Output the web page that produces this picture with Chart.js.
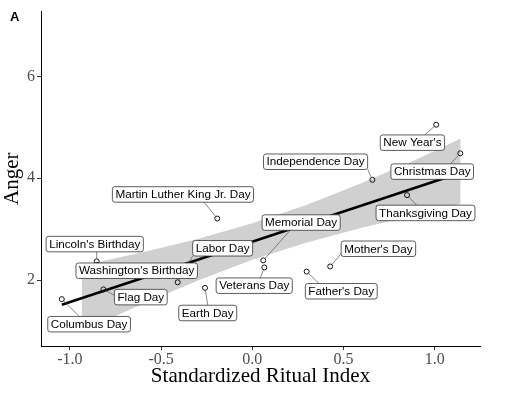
<!DOCTYPE html>
<html><head><meta charset="utf-8">
<script src="https://cdn.jsdelivr.net/npm/chart.js@4/dist/chart.umd.min.js"></script>
<style>html,body{margin:0;padding:0;background:#fff;}canvas{display:block;}</style>
</head><body>
<canvas id="c" width="510" height="397"></canvas>
<script>
// ---- data ----
const holidays = ["Columbus Day","Lincoln's Birthday","Washington's Birthday","Flag Day","Labor Day","Earth Day","Martin Luther King Jr. Day","Memorial Day","Veterans Day","Father's Day","Mother's Day","Independence Day","Thanksgiving Day","New Year's","Christmas Day"];
const ritualIndex = [-1.044,-0.853,-0.85,-0.816,-0.409,-0.259,-0.192,0.060,0.066,0.298,0.427,0.658,0.848,1.008,1.140];
const anger = [1.63,2.37,2.30,1.82,1.96,1.85,3.21,2.39,2.25,2.17,2.27,3.97,3.67,5.05,4.49];
const fitX = [-1.044, 1.142];
const fitY = [1.52, 4.11];
const bandX = [-0.935,-0.6,-0.3,0,0.3,0.6,0.9,1.142];
const bandUpper = [2.29,2.55,2.81,3.12,3.48,3.91,4.37,4.78];
const bandLower = [1.00,1.54,1.99,2.40,2.74,3.03,3.28,3.50];
const xTicks = [-1.0,-0.5,0.0,0.5,1.0];
const yTicks = [2,4,6];
const panelLetter = "A";
const xTitle = "Standardized Ritual Index";
const yTitle = "Anger";

// ---- label layout (pixel offset of label centre from its point; leader attach fraction on box) ----
const labelLayout = [
  {dx:27.3,dy:25.1,ax:0.38,ay:0,seg:true},
  {dx:-1.9,dy:-17.3,ax:0.52,ay:1,seg:true},
  {dx:39.5,dy:5.8,ax:0,ay:0,seg:false},
  {dx:37.4,dy:7.7,ax:0,ay:0.39,seg:true},
  {dx:45,dy:-34,ax:0,ay:1,seg:true},
  {dx:2.7,dy:25.1,ax:0.5,ay:0,seg:true},
  {dx:-34.3,dy:-24.1,ax:0.65,ay:1,seg:true},
  {dx:37.9,dy:-37.8,ax:0.36,ay:1,seg:true},
  {dx:-10.1,dy:18.2,ax:0.58,ay:0,seg:true},
  {dx:34.6,dy:19.7,ax:0.19,ay:0,seg:true},
  {dx:48.2,dy:-17.7,ax:0,ay:0.82,seg:true},
  {dx:-56.8,dy:-18.1,ax:1,ay:1,seg:true},
  {dx:18.5,dy:17.8,ax:0.41,ay:0,seg:true},
  {dx:-23.8,dy:17.9,ax:0.69,ay:0,seg:true},
  {dx:-28.1,dy:18.3,ax:0.72,ay:0,seg:true}
];

const pts = ritualIndex.map((x,i)=>({x, y: anger[i]}));
const fitPts = fitX.map((x,i)=>({x, y: fitY[i]}));
const upPts = bandX.map((x,i)=>({x, y: bandUpper[i]}));
const loPts = bandX.map((x,i)=>({x, y: bandLower[i]}));

const serif = '"Liberation Serif","Times New Roman",serif';
const sans = '"Liberation Sans",Arial,sans-serif';

function roundRect(ctx,x,y,w,h,r){
  ctx.beginPath();
  ctx.moveTo(x+r,y);
  ctx.lineTo(x+w-r,y); ctx.arcTo(x+w,y,x+w,y+r,r);
  ctx.lineTo(x+w,y+h-r); ctx.arcTo(x+w,y+h,x+w-r,y+h,r);
  ctx.lineTo(x+r,y+h); ctx.arcTo(x,y+h,x,y+h-r,r);
  ctx.lineTo(x,y+r); ctx.arcTo(x,y,x+r,y,r);
  ctx.closePath();
}

const labelPlugin = {
  id:'repelLabels',
  afterDatasetsDraw(chart){
    const ctx = chart.ctx, xs = chart.scales.x, ys = chart.scales.y;
    ctx.save();
    ctx.font = '11.7px ' + sans;
    const padX = 3, boxH = 15.5;
    const boxes = holidays.map((name,i)=>{
      const px = xs.getPixelForValue(ritualIndex[i]);
      const py = ys.getPixelForValue(anger[i]);
      const L = labelLayout[i];
      const w = ctx.measureText(name).width + 2*padX;
      const cx = px + L.dx, cy = py + L.dy;
      return {name,px,py,L,w,h:boxH,cx,cy,x1:cx-w/2,y1:cy-boxH/2};
    });
    ctx.strokeStyle = '#555'; ctx.lineWidth = 0.7;
    boxes.forEach(b=>{
      if(!b.L.seg) return;
      const ex = b.x1 + b.L.ax*b.w, ey = b.y1 + b.L.ay*b.h;
      const dx = ex-b.px, dy = ey-b.py, d = Math.hypot(dx,dy)||1, r = 2.5;
      ctx.beginPath(); ctx.moveTo(b.px+dx/d*r, b.py+dy/d*r); ctx.lineTo(ex,ey); ctx.stroke();
    });
    boxes.forEach(b=>{
      roundRect(ctx,b.x1,b.y1,b.w,b.h,2.5);
      ctx.fillStyle = '#fff'; ctx.fill();
      ctx.strokeStyle = '#333'; ctx.lineWidth = 0.8; ctx.stroke();
      ctx.fillStyle = '#000'; ctx.textAlign = 'center'; ctx.textBaseline = 'middle';
      ctx.fillText(b.name, b.cx, b.cy + 0.5);
    });
    ctx.restore();
  },
  afterDraw(chart){
    const ctx = chart.ctx;
    ctx.save();
    ctx.font = 'bold 13px ' + sans;
    ctx.fillStyle = '#000'; ctx.textAlign = 'left'; ctx.textBaseline = 'alphabetic';
    ctx.fillText(panelLetter, 10, 21);
    ctx.restore();
  }
};

new Chart(document.getElementById('c'), {
  type:'scatter',
  data:{datasets:[
    {data:pts, order:0, showLine:false, pointRadius:2.5, pointBorderWidth:1, pointBorderColor:'#111', pointBackgroundColor:'rgba(0,0,0,0)'},
    {data:fitPts, order:1, showLine:true, borderColor:'#000', borderWidth:2.6, pointRadius:0, tension:0, fill:false},
    {data:upPts, order:2, showLine:true, borderWidth:0, borderColor:'rgba(0,0,0,0)', pointRadius:0, tension:0, fill:'+1', backgroundColor:'#d0d0d0'},
    {data:loPts, order:3, showLine:true, borderWidth:0, borderColor:'rgba(0,0,0,0)', pointRadius:0, tension:0, fill:false}
  ]},
  options:{
    responsive:false, animation:false, devicePixelRatio:1,
    layout:{padding:{left:0,right:30,top:11,bottom:0}},
    plugins:{legend:{display:false}, tooltip:{enabled:false}},
    scales:{
      x:{
        type:'linear', min:-1.158, max:1.248, offset:false,
        afterBuildTicks:(s)=>{ s.ticks = xTicks.map(v=>({value:v})); },
        afterFit:(s)=>{ s.height = 51; },
        grid:{drawOnChartArea:false, drawTicks:true, tickLength:4, tickColor:'#333', tickWidth:1},
        border:{display:true, color:'#000', width:1},
        ticks:{font:{family:serif,size:16}, color:'#4d4d4d', padding:0, maxRotation:0, autoSkip:false,
          callback:(v)=>Number(v).toFixed(1)},
        title:{display:true, text:xTitle, font:{family:serif,size:21}, color:'#000', padding:{top:0,bottom:8}}
      },
      y:{
        type:'linear', min:0.71, max:7.27,
        afterBuildTicks:(s)=>{ s.ticks = yTicks.map(v=>({value:v})); },
        afterFit:(s)=>{ s.width = 41; },
        grid:{drawOnChartArea:false, drawTicks:true, tickLength:4, tickColor:'#333', tickWidth:1},
        border:{display:true, color:'#000', width:1},
        ticks:{font:{family:serif,size:16}, color:'#4d4d4d', padding:2, autoSkip:false,
          callback:(v)=>String(v)},
        title:{display:true, text:yTitle, font:{family:serif,size:21}, color:'#000', padding:{top:0,bottom:0}}
      }
    }
  },
  plugins:[labelPlugin]
});
</script>
</body></html>
